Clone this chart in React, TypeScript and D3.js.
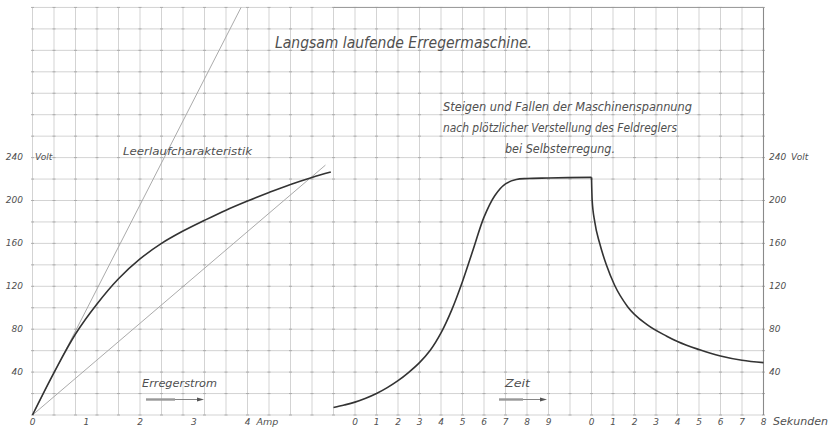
import React from "react";
import * as d3 from "d3";

// ---- data ----
const ampTicks = [0, 1, 2, 3, 4];
const voltTicks = [40, 80, 120, 160, 200, 240];
const riseTicks = [0, 1, 2, 3, 4, 5, 6, 7, 8, 9];
const fallTicks = [0, 1, 2, 3, 4, 5, 6, 7, 8];

// Leerlaufcharakteristik (Amp -> Volt)
const leerlaufI = [0, 0.4, 0.8, 1.2, 1.6, 2.0, 2.4, 2.8, 3.2, 3.6, 4.0, 4.4, 4.8, 5.2, 5.55];
const leerlaufV = [0, 39.5, 75.5, 103.5, 127, 145.5, 160, 171.5, 181.5, 191, 199.5, 207.5, 215, 221.5, 226.5];
// tangent line and resistance line
const tangentI = [0, 3.88];
const tangentV = [0, 380];
const widerstandI = [0, 5.45];
const widerstandV = [0, 233];
// Steigen (seconds -> Volt)
const riseT = [-1, -0.5, 0, 0.5, 1, 1.5, 2, 2.5, 3, 3.5, 4, 4.5, 5, 5.5, 6, 6.5, 7, 7.5, 8, 9, 11];
const riseV = [7, 9.3, 12, 15.6, 20, 25.5, 32, 39.8, 48.8, 60.3, 76.5, 98, 124.5, 154.5, 184.5, 204.5, 215.5, 219.5, 220.5, 221, 221.6];
// Fallen (seconds -> Volt)
const fallT = [0, 0.03, 0.15, 0.38, 0.69, 1.07, 1.68, 2.6, 3.5, 4.0, 5.0, 6.0, 7.0, 8.0];
const fallV = [221.6, 200.5, 180.2, 160.1, 140, 121.2, 101, 84, 73.5, 68.5, 61, 55, 51, 48.8];

// ---- layout ----
const W = 835, H = 434;
const GX0 = 32.5, GDX = 21.5, NCOLS = 34;
const GY0 = 415, GDY = 21.45, NROWS = 19;

const xAmp = d3.scaleLinear().domain([0, 1]).range([GX0, GX0 + 2.5 * GDX]);
const xRise = d3.scaleLinear().domain([0, 1]).range([GX0 + 15 * GDX, GX0 + 16 * GDX]);
const xFall = d3.scaleLinear().domain([0, 1]).range([GX0 + 26 * GDX, GX0 + 27 * GDX]);
const yV = d3.scaleLinear().domain([0, 20]).range([GY0, GY0 - GDY]);

const TXT = "#505050";
const FONT = "'DejaVu Sans', sans-serif";

function path(xs: number[], ys: number[], sx: any, curve: any) {
  const pts = xs.map((x, i) => [x, ys[i]] as [number, number]);
  return d3.line<[number, number]>().x(d => sx(d[0])).y(d => yV(d[1])).curve(curve)(pts) || "";
}

function Arrow({ x1, x2, y }: { x1: number; x2: number; y: number }) {
  const mid = x1 + (x2 - x1) * 0.5;
  return (
    <g>
      <line x1={x1} x2={mid} y1={y} y2={y} stroke="#999" strokeWidth={2.4} />
      <line x1={mid} x2={x2 - 5} y1={y} y2={y} stroke="#777" strokeWidth={0.9} />
      <path d={`M${x2},${y} L${x2 - 7},${y - 2} L${x2 - 7},${y + 2} Z`} fill="#555" />
    </g>
  );
}

export default function App() {
  const cols = d3.range(NCOLS + 1);
  const rows = d3.range(NROWS + 1);
  const gTop = GY0 - NROWS * GDY;
  const gRight = GX0 + NCOLS * GDX;
  return (
    <svg width={W} height={H} style={{ position: "absolute", left: 0, top: 0, background: "#fff" }}>
      <rect x={0} y={0} width={W} height={H} fill="#fff" />
      {/* grid */}
      <g stroke="#c8c8c8" strokeWidth={0.8}>
        {cols.map(i => (
          <line key={"c" + i} x1={GX0 + i * GDX} x2={GX0 + i * GDX} y1={gTop} y2={GY0} />
        ))}
        {rows.map(j => (
          <line key={"r" + j} x1={GX0} x2={gRight} y1={GY0 - j * GDY} y2={GY0 - j * GDY} />
        ))}
      </g>
      {/* intersection marks */}
      <g stroke="#a8a8a8" strokeWidth={0.9}>
        {cols.map(i =>
          rows.map(j => {
            const cx = GX0 + i * GDX, cy = GY0 - j * GDY;
            return <line key={`m${i}-${j}`} x1={cx - 1.5} x2={cx + 1.5} y1={cy} y2={cy} />;
          })
        )}
      </g>
      <line x1={gRight} x2={gRight} y1={gTop} y2={GY0} stroke="#8a8a8a" strokeWidth={1.1} />
      <line x1={GX0 + 14 * GDX} x2={gRight} y1={gTop} y2={gTop} stroke="#9a9a9a" strokeWidth={1} />

      {/* thin lines */}
      <path d={path(tangentI, tangentV, xAmp, d3.curveLinear)} fill="none" stroke="#a0a0a0" strokeWidth={0.9} />
      <path d={path(widerstandI, widerstandV, xAmp, d3.curveLinear)} fill="none" stroke="#a0a0a0" strokeWidth={0.9} />

      {/* main curves */}
      <path d={path(leerlaufI, leerlaufV, xAmp, d3.curveCatmullRom)} fill="none" stroke="#333" strokeWidth={1.6} />
      <path d={path(riseT, riseV, xRise, d3.curveCatmullRom)} fill="none" stroke="#333" strokeWidth={1.6} />
      <path d={path(fallT, fallV, xFall, d3.curveMonotoneX)} fill="none" stroke="#333" strokeWidth={1.6} />

      <g fontFamily={FONT} fontStyle="italic" fill={TXT}>
        {/* title */}
        <text x={275} y={48} fontSize={15.5} textLength={257} lengthAdjust="spacingAndGlyphs">
          Langsam laufende Erregermaschine.
        </text>
        <text x={443} y={111} fontSize={11.5} textLength={249} lengthAdjust="spacingAndGlyphs">
          Steigen und Fallen der Maschinenspannung
        </text>
        <text x={443} y={131.5} fontSize={11.5} textLength={234} lengthAdjust="spacingAndGlyphs">
          nach plötzlicher Verstellung des Feldreglers
        </text>
        <text x={505} y={152.5} fontSize={11.5} textLength={110} lengthAdjust="spacingAndGlyphs">
          bei Selbsterregung.
        </text>
        <text x={123} y={154.5} fontSize={10.5} textLength={129} lengthAdjust="spacingAndGlyphs">
          Leerlaufcharakteristik
        </text>
        <text x={142} y={386.5} fontSize={10.5} textLength={75} lengthAdjust="spacingAndGlyphs">
          Erregerstrom
        </text>
        <text x={505} y={386.5} fontSize={10.5} textLength={25} lengthAdjust="spacingAndGlyphs">
          Zeit
        </text>

        {/* left y labels */}
        {voltTicks.map(v => (
          <text key={"lv" + v} x={23} y={yV(v)} fontSize={9} textAnchor="end" dominantBaseline="middle">
            {v}
          </text>
        ))}
        <text x={35} y={yV(240)} fontSize={9} dominantBaseline="middle">Volt</text>
        {/* right y labels */}
        {voltTicks.map(v => (
          <text key={"rv" + v} x={769} y={yV(v)} fontSize={9} dominantBaseline="middle">
            {v}
          </text>
        ))}
        <text x={791} y={yV(240)} fontSize={9} dominantBaseline="middle">Volt</text>

        {/* x labels */}
        {ampTicks.map(a => (
          <text key={"a" + a} x={xAmp(a)} y={422} fontSize={9} textAnchor="middle" dominantBaseline="middle">
            {a}
          </text>
        ))}
        <text x={xAmp(4) + 9} y={422} fontSize={9.5} dominantBaseline="middle">Amp</text>
        {riseTicks.map(t => (
          <text key={"t" + t} x={xRise(t)} y={422} fontSize={9} textAnchor="middle" dominantBaseline="middle">
            {t}
          </text>
        ))}
        {fallTicks.map(t => (
          <text key={"f" + t} x={xFall(t)} y={422} fontSize={9} textAnchor="middle" dominantBaseline="middle">
            {t}
          </text>
        ))}
        <text x={773} y={422} fontSize={10} dominantBaseline="middle" textLength={55} lengthAdjust="spacingAndGlyphs">
          Sekunden
        </text>
      </g>

      <Arrow x1={146} x2={204} y={399.5} />
      <Arrow x1={499} x2={547} y={399.5} />
    </svg>
  );
}
